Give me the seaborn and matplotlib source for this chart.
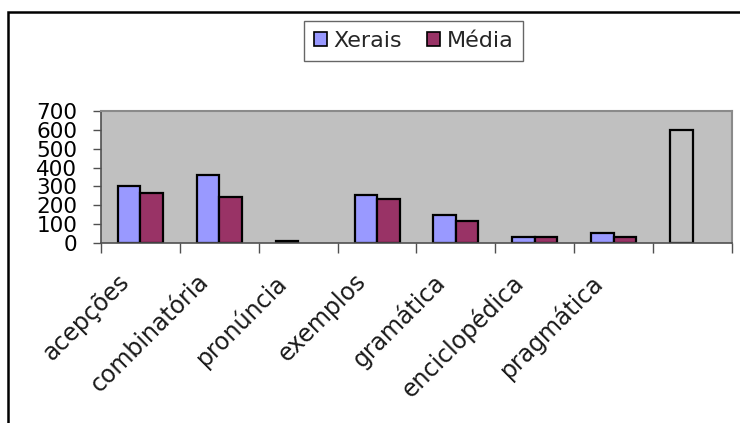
import matplotlib
matplotlib.use("Agg")
import matplotlib.pyplot as plt
from matplotlib.patches import Rectangle
from matplotlib.ticker import FixedLocator
from matplotlib.transforms import ScaledTranslation
import numpy as np
import pandas as pd
import seaborn as sns

# Categories (the last one carries no label)
categories = ["acepções", "combinatória", "pronúncia", "exemplos",
              "gramática", "enciclopédica", "pragmática", ""]
xerais = [300, 360, 12, 254, 148, 32, 53, 600]
media = [265, 244, np.nan, 235, 118, 32, 33, np.nan]
series_names = ["Xerais", "Média"]
y_ticks = [0, 100, 200, 300, 400, 500, 600, 700]

colors = {"Xerais": "#9999FF", "Média": "#993366"}

df = pd.DataFrame({
    "categoria": categories * 2,
    "serie": [series_names[0]] * len(categories) + [series_names[1]] * len(categories),
    "valor": xerais + media,
})

sns.set_theme(style="white")
plt.rcParams["font.family"] = ["DejaVu Sans"]

W, H = 740, 423
fig = plt.figure(figsize=(W / 100, H / 100), dpi=100)
ax = fig.add_axes([101 / W, 1 - 243 / H, (732 - 101) / W, (243 - 111) / H])

sns.barplot(data=df, x="categoria", y="valor", hue="serie",
            order=categories, hue_order=series_names, palette=colors,
            saturation=1, width=0.57, edgecolor="black", linewidth=1.6,
            errorbar=None, legend=True, ax=ax)

# The last Xerais bar is drawn as an empty outline
last = ax.containers[0][len(categories) - 1]
last.set_facecolor("none")

ax.set_facecolor("#C0C0C0")
ax.set_xlim(-0.5, len(categories) - 0.5)
ax.set_ylim(0, 700)
ax.set_xlabel("")
ax.set_ylabel("")

ax.yaxis.set_major_locator(FixedLocator(y_ticks))
ax.set_yticklabels([str(v) for v in y_ticks], fontsize=15.5, color="black")
ax.tick_params(axis="y", which="major", direction="out", length=6, width=1,
               color="#505050", pad=11, left=True)

ax.xaxis.set_minor_locator(FixedLocator(np.arange(-0.5, len(categories), 1.0)))
ax.tick_params(axis="x", which="minor", direction="out", length=7, width=1,
               color="#505050", bottom=True)
ax.tick_params(axis="x", which="major", length=0, pad=19)
ax.set_xticks(range(len(categories)))
ax.set_xticklabels(categories, rotation=45, ha="right", va="top",
                   fontsize=17, color="#1a1a1a")
shift = ScaledTranslation(-6 / 100, 0, fig.dpi_scale_trans)
for lab in ax.get_xticklabels():
    lab.set_transform(lab.get_transform() + shift)

for side in ["left", "bottom"]:
    ax.spines[side].set_color("#505050")
    ax.spines[side].set_linewidth(1.2)
for side in ["top", "right"]:
    ax.spines[side].set_color("#8A8A8A")
    ax.spines[side].set_linewidth(1.5)

# Legend box at the top of the frame
handles, labels = ax.get_legend_handles_labels()
if ax.legend_:
    ax.legend_.remove()
leg = fig.legend(handles, labels, loc="center",
                 bbox_to_anchor=(413.5 / W, 1 - 41 / H),
                 ncol=2, fontsize=16, frameon=True, fancybox=False,
                 handlelength=0.6, handleheight=0.6, handletextpad=0.3,
                 columnspacing=1.1, borderpad=0.45, borderaxespad=0)
leg.get_frame().set_edgecolor("#404040")
leg.get_frame().set_linewidth(1.0)
for h in leg.legend_handles:
    h.set_edgecolor("black")
    h.set_linewidth(1.2)

# Outer chart frame
fig.add_artist(Rectangle((8 / W, -0.2), 2.0, (H - 12) / H + 0.2,
                         transform=fig.transFigure, fill=False,
                         edgecolor="black", linewidth=1.8))

fig.savefig("out.png", dpi=100, facecolor="white")
